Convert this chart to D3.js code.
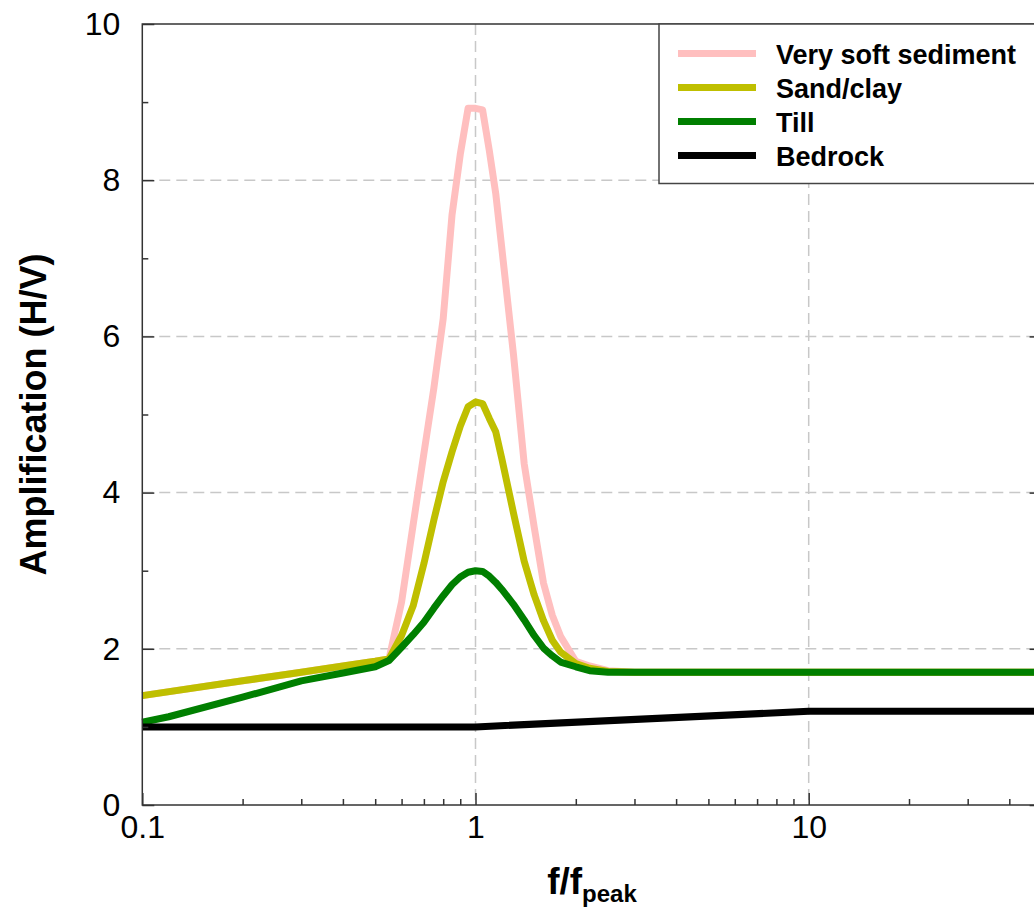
<!DOCTYPE html>
<html>
<head>
<meta charset="utf-8">
<script src="https://cdn.jsdelivr.net/npm/d3@7"></script>
<style>
  body { margin: 0; background: #fff; }
  svg { display: block; font-family: "Liberation Sans", Arial, sans-serif; }
</style>
</head>
<body>
<div id="chart"></div>
<script>
// values (x = f/fpeak, y = H/V amplification)
var seriesNames = ["Very soft sediment", "Sand/clay", "Till", "Bedrock"];
var seriesColors = ["#ffbfbf", "#bfbf00", "#007f00", "#000000"];

var softFreq = [0.1, 0.2, 0.3, 0.4, 0.5, 0.55, 0.6, 0.65, 0.7, 0.75, 0.8, 0.85, 0.9, 0.95, 1.0, 1.05, 1.1, 1.15, 1.2, 1.3, 1.4, 1.5, 1.6, 1.7, 1.8, 2.0, 2.2, 2.5, 3, 50];
var softAmp  = [1.40, 1.59, 1.70, 1.78, 1.84, 1.87, 2.60, 3.59, 4.50, 5.34, 6.23, 7.55, 8.33, 8.92, 8.92, 8.90, 8.38, 7.83, 7.12, 5.77, 4.37, 3.56, 2.84, 2.43, 2.16, 1.84, 1.78, 1.72, 1.70, 1.70];

var sandFreq = [0.1, 0.2, 0.3, 0.4, 0.5, 0.55, 0.6, 0.65, 0.7, 0.75, 0.8, 0.85, 0.9, 0.95, 1.0, 1.05, 1.1, 1.15, 1.2, 1.3, 1.4, 1.5, 1.6, 1.7, 1.8, 2.0, 2.2, 2.5, 3, 50];
var sandAmp  = [1.40, 1.59, 1.70, 1.78, 1.84, 1.87, 2.17, 2.55, 3.09, 3.65, 4.14, 4.52, 4.85, 5.10, 5.16, 5.14, 4.95, 4.78, 4.43, 3.74, 3.12, 2.69, 2.36, 2.11, 1.96, 1.81, 1.75, 1.71, 1.70, 1.70];

var tillFreq = [0.1, 0.12, 0.2, 0.3, 0.4, 0.5, 0.55, 0.6, 0.65, 0.7, 0.75, 0.8, 0.85, 0.9, 0.95, 1.0, 1.05, 1.1, 1.15, 1.2, 1.3, 1.4, 1.5, 1.6, 1.7, 1.8, 2.0, 2.2, 2.5, 3, 50];
var tillAmp  = [1.06, 1.13, 1.38, 1.59, 1.69, 1.77, 1.85, 2.02, 2.18, 2.34, 2.52, 2.68, 2.82, 2.92, 2.98, 3.00, 2.99, 2.93, 2.85, 2.76, 2.57, 2.37, 2.17, 2.01, 1.91, 1.83, 1.77, 1.72, 1.70, 1.70, 1.70];

var rockFreq = [0.1, 1, 10, 50];
var rockAmp  = [1.0, 1.0, 1.2, 1.2];

var xTicks = [0.1, 1, 10];
var xMinor = [0.2, 0.3, 0.4, 0.5, 0.6, 0.7, 0.8, 0.9, 2, 3, 4, 5, 6, 7, 8, 9, 20, 30, 40];
var xGrid = [1, 10];
var yTicks = [0, 2, 4, 6, 8, 10];
var yMinor = [1, 3, 5, 7, 9];
var yGrid = [2, 4, 6, 8];

var svgWidth = 1034, svgHeight = 909;
var margin = { top: 24, left: 142.3 };
var width = 899.3;   // plot runs a little past the right edge of the picture
var height = 781;

var svg = d3.select("#chart").append("svg")
  .attr("width", svgWidth)
  .attr("height", svgHeight);

var g = svg.append("g")
  .attr("transform", `translate(${margin.left}, ${margin.top})`);

var x = d3.scaleLog().domain([0.1, 50]).range([0, width]);
var y = d3.scaleLinear().domain([0, 10]).range([height, 0]);

// dashed grid
g.selectAll(".vgrid").data(xGrid).enter().append("line")
  .attr("x1", d => x(d)).attr("x2", d => x(d))
  .attr("y1", 0).attr("y2", height)
  .attr("stroke", "#c8c8c8").attr("stroke-width", 1.5)
  .attr("stroke-dasharray", "11,6");

g.selectAll(".hgrid").data(yGrid).enter().append("line")
  .attr("x1", 0).attr("x2", width)
  .attr("y1", d => y(d)).attr("y2", d => y(d))
  .attr("stroke", "#c8c8c8").attr("stroke-width", 1.5)
  .attr("stroke-dasharray", "11,6");

// curves
var series = [
  d3.zip(softFreq, softAmp),
  d3.zip(sandFreq, sandAmp),
  d3.zip(tillFreq, tillAmp),
  d3.zip(rockFreq, rockAmp)
];

var line = d3.line()
  .x(d => x(d[0]))
  .y(d => y(d[1]));

g.selectAll(".curve").data(series).enter().append("path")
  .attr("d", line)
  .attr("fill", "none")
  .attr("stroke", (d, i) => seriesColors[i])
  .attr("stroke-width", 7)
  .attr("stroke-linejoin", "round");

// axes (ticks point inward)
function styleAxis(sel) {
  sel.select(".domain").remove();
  sel.selectAll(".tick line").attr("stroke", "#333").attr("stroke-width", 1.5);
  sel.selectAll("text").attr("fill", "#000").style("font-size", "32px")
    .style("font-family", "'Liberation Sans', Arial, sans-serif");
}

g.append("g")
  .attr("transform", `translate(0, ${height})`)
  .call(d3.axisBottom(x).tickValues(xTicks).tickFormat(d => String(d))
    .tickSizeInner(-12).tickSizeOuter(0).tickPadding(10))
  .call(styleAxis);

g.append("g")
  .attr("transform", `translate(0, ${height})`)
  .call(d3.axisBottom(x).tickValues(xMinor).tickFormat("")
    .tickSizeInner(-6).tickSizeOuter(0))
  .call(styleAxis);

g.append("g")
  .call(d3.axisLeft(y).tickValues(yTicks)
    .tickSizeInner(-12).tickSizeOuter(0).tickPadding(22))
  .call(styleAxis);

g.append("g")
  .call(d3.axisLeft(y).tickValues(yMinor).tickFormat("")
    .tickSizeInner(-6).tickSizeOuter(0))
  .call(styleAxis);

g.append("g")
  .attr("transform", `translate(${width}, 0)`)
  .call(d3.axisRight(y).tickValues(yTicks).tickFormat("")
    .tickSizeInner(-12).tickSizeOuter(0))
  .call(styleAxis);

// frame
g.append("rect")
  .attr("width", width).attr("height", height)
  .attr("fill", "none")
  .attr("stroke", "#333").attr("stroke-width", 1.5);

// axis titles
g.append("text")
  .attr("transform", `translate(${-96}, ${height / 2}) rotate(-90)`)
  .attr("text-anchor", "middle")
  .style("font-size", "36px").style("font-weight", "bold")
  .text("Amplification (H/V)");

var xt = g.append("text")
  .attr("x", width / 2)
  .attr("y", height + 89)
  .attr("text-anchor", "middle")
  .style("font-size", "37px").style("font-weight", "bold");
xt.append("tspan").text("f/f");
xt.append("tspan").attr("dy", 8).style("font-size", "24px").text("peak");

// legend
var legend = g.append("g").attr("transform", "translate(516.7, 0)");

legend.append("rect")
  .attr("width", 420).attr("height", 159.5)
  .attr("fill", "#fff")
  .attr("stroke", "#444").attr("stroke-width", 1.5);

var item = legend.selectAll(".item").data(seriesNames).enter().append("g")
  .attr("transform", (d, i) => `translate(0, ${29.5 + i * 34})`);

item.append("line")
  .attr("x1", 19).attr("x2", 97)
  .attr("stroke", (d, i) => seriesColors[i])
  .attr("stroke-width", 7);

item.append("text")
  .attr("x", 117).attr("y", 10)
  .style("font-size", "27px").style("font-weight", "bold")
  .text(d => d);
</script>
</body>
</html>
